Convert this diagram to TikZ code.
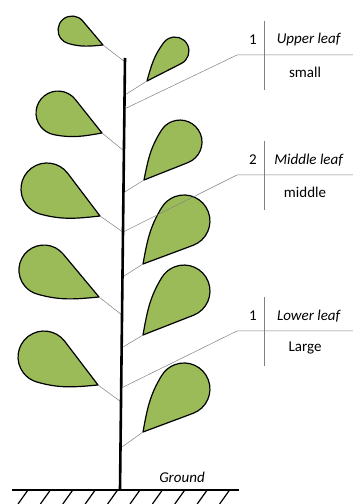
\documentclass[tikz,border=0pt]{standalone}
\usepackage{fontspec}
\setmainfont{Carlito}
\usetikzlibrary{calc}
\definecolor{leafgreen}{HTML}{9BBB59}

% teardrop leaf: name, tip, axis angle, tip-to-centre distance, radius
\newcommand\leaf[5]{%
  \coordinate (#1) at (#2);
  \pgfmathsetmacro\angB{180-acos(#5/#4)}
  \pgfmathsetmacro\angE{\angB-14}
  \pgfmathsetmacro\angC{atan2(#5*sin(\angE),#4+#5*cos(\angE))}
  \begin{scope}[shift={(#1)},rotate=#3]
    \draw[leaf] (0,0) -- ({#4+#5*cos(\angB)},{-#5*sin(\angB)})
      arc[start angle=-\angB,end angle=\angE,radius=#5]
      to[out=\angE+90,in=\angC+8] cycle;
  \end{scope}}

\begin{document}
\begin{tikzpicture}[x=1pt,y=1pt,
  leaf/.style={draw,fill=leafgreen,line width=1.2pt,line join=round},
  stem/.style={line width=2.6pt},
  twig/.style={draw=gray,line width=.5pt},
  rule/.style={draw=gray,line width=.5pt},
  every node/.style={font=\fontsize{15}{18}\selectfont,inner sep=0pt}]
\useasboundingbox (0,0) rectangle (354,504);
\coordinate (base) at (120,14);
\coordinate (top) at (125,446);
% where twigs and leader lines meet the stem
\foreach \n/\f in {1/.991,2/.914,3/.785,4/.688,5/.597,6/.493,7/.405,
  8/.329,9/.204,10/.097,u/.882,m/.597,l/.236}
  \coordinate (s\n) at ($(base)!\f!(top)$);
% leaves, odd ones left of the stem
\leaf{t1}{103,459}{154.2}{34.4}{14}
\leaf{t2}{147,423}{47}{41}{14}
\leaf{t3}{102,371}{155.6}{48.3}{22}
\leaf{t4}{144,324}{46.5}{52.3}{22}
\leaf{t5}{100,288}{153}{59.5}{26}
\leaf{t6}{143,240}{46.4}{59.4}{26}
\leaf{t7}{99,207}{153.9}{61.3}{25}
\leaf{t8}{143,169}{47}{60.1}{26}
\leaf{t9}{98,119}{152.6}{60.8}{26}
\leaf{t10}{143,72}{46.4}{59.4}{26}
\foreach \n in {1,...,10}
  \draw[twig] (t\n) -- (s\n);
% labels on the right
\foreach \n/\y/\num/\name/\size in {u/449/1/Upper leaf/small,
  m/329/2/Middle leaf/middle,l/173/1/Lower leaf/Large}{
  \coordinate (k\n) at (237,\y);
  \coordinate (e\n) at (353,\y);
  \draw[rule] (s\n) -- (k\n) -- (e\n);
  \coordinate (a\n) at (264,\y+34);
  \coordinate (b\n) at (264,\y-35);
  \draw[rule] (a\n) -- (b\n);
  \node (num\n) at (253,\y+15) {\num};
  \node (name\n) at (309,\y+15) {\textit{\name}};
  \node (size\n) at (305,\y-17) {\size};
}
\draw[stem] (base) -- (top);
% ground
\draw[stem] (12,14) -- (239,14);
\foreach \i in {0,...,9}
  \draw[line width=1.2pt] ({28+22.4*\i},14) -- ++(-10,-14);
\node (ground) at (182,27) {\textit{Ground}};
\end{tikzpicture}
\end{document}
